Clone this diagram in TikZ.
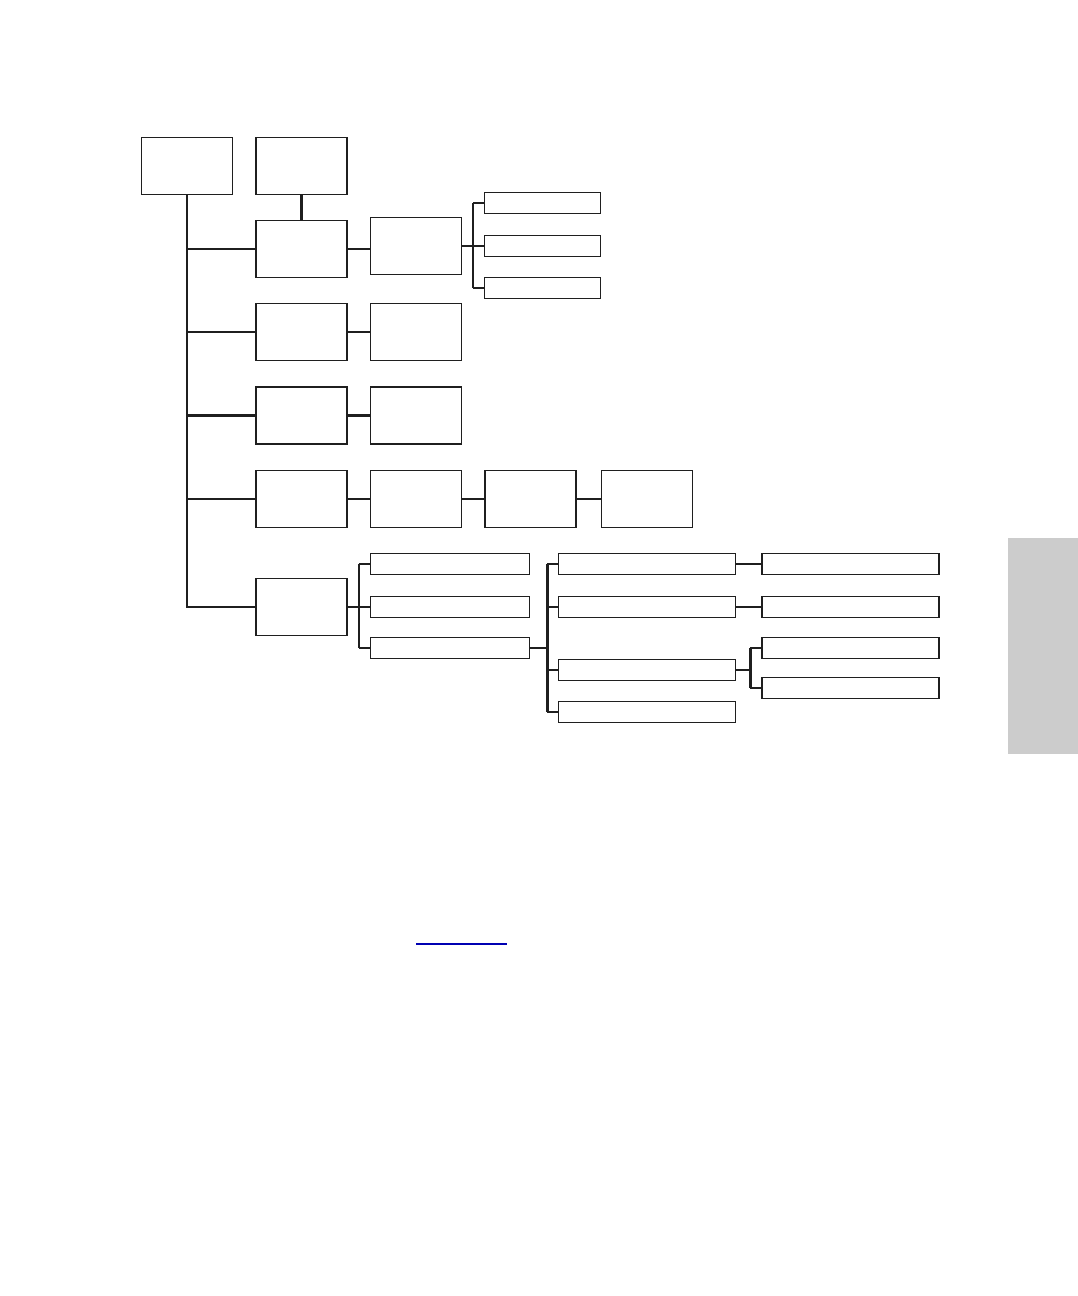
\documentclass[tikz,border=0pt]{standalone}
\usetikzlibrary{positioning}

\begin{document}
\begin{tikzpicture}[x=0.75pt,y=-0.75pt,
    box/.style={draw=black!88,line width=1.4pt,inner sep=0pt,minimum width=91*0.75pt,minimum height=57*0.75pt},
    slim/.style={box,minimum height=21*0.75pt},
    link/.style={draw=black!88,line width=1.7pt}]
  \useasboundingbox (0,0) rectangle (1078,1296);
  \fill[black!20] (1008,538) rectangle (1078,754);

  \node[box,line width=1pt] (A) at (187,166) {};
  \node[box] (B) at (301.5,166) {};
  \foreach \n/\y in {1/249,2/332,3/415.5,4/499,5/607}
    \node[box] (C\n) at (301.5,\y) {};
  \node[box,line width=1pt] (D1) at (416,246) {};
  \node[box,line width=0.9pt] (D2) at (416,332) {};
  \node[box,line width=0.9pt] (D3) at (416,415.5) {};
  \node[box] (D4) at (416,499) {};
  \node[box] (D5) at (530.5,499) {};
  \node[box] (D6) at (647,499) {};
  \foreach \n/\y in {1/203,2/246,3/288}
    \node[slim,minimum width=116*0.75pt] (E\n) at (542.5,\y) {};
  \foreach \n/\y in {1/564,2/607,3/648}
    \node[slim,minimum width=159*0.75pt] (F\n) at (450,\y) {};
  \foreach \n/\y in {1/564,2/607,3/670,4/712}
    \node[slim,minimum width=177*0.75pt] (G\n) at (647,\y) {};
  \foreach \n/\y in {1/564,2/607,3/648,4/688}
    \node[slim,minimum width=177*0.75pt] (H\n) at (850.5,\y) {};

  % trunk
  \draw[link] (A.south) -- (A.south |- C5.west) -- (C5.west);
  \foreach \n in {1,...,4}
    \draw[link] (A.south |- C\n.west) -- (C\n.west);
  \draw[link] (B) -- (C1);
  \draw[link] (C1.east) -- (C1.east -| D1.west);
  \draw[link] (C2) -- (D2);
  \draw[link] (C3) -- (D3);
  \draw[link] (C4) -- (D4) -- (D5) -- (D6);
  \draw[link] (G1) -- (H1);
  \draw[link] (G2) -- (H2);

  % brackets
  \draw[link] (D1.east) -- ++(11,0) coordinate (e);
  \draw[link] (e |- E1.west) -- (e |- E3.west);
  \foreach \n in {1,2,3}
    \draw[link] (e |- E\n.west) -- (E\n.west);
  \draw[link] (C5.east) -- ++(11,0) coordinate (f);
  \draw[link] (f |- F1.west) -- (f |- F3.west);
  \foreach \n in {1,2,3}
    \draw[link] (f |- F\n.west) -- (F\n.west);
  \draw[link] (F3.east) -- ++(17,0) coordinate (g);
  \draw[link] (g |- G1.west) -- (g |- G4.west);
  \foreach \n in {1,...,4}
    \draw[link] (g |- G\n.west) -- (G\n.west);
  \draw[link] (G3.east) -- ++(14,0) coordinate (h);
  \draw[link] (h |- H3.west) -- (h |- H4.west);
  \foreach \n in {3,4}
    \draw[link] (h |- H\n.west) -- (H\n.west);

  \draw[blue!70!black,line width=1.2pt] (416,944) coordinate (u1) -- (507,944) coordinate (u2);
\end{tikzpicture}
\end{document}
